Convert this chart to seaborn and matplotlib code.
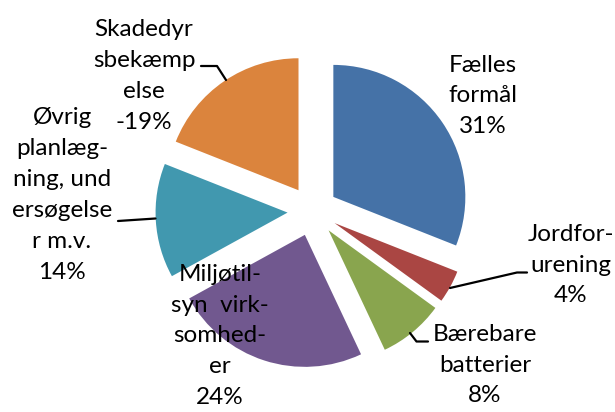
import matplotlib
matplotlib.use("Agg")
import matplotlib.pyplot as plt
import seaborn as sns

# ---- data ----
categories = ["Fælles formål", "Jordforurening", "Bærebare batterier",
              "Miljøtilsyn virksomheder", "Øvrig planlægning, undersøgelser m.v.",
              "Skadedyrsbekæmpelse"]
label_text = ["Fælles\nformål\n", "Jordfor-\nurening\n", "Bærebare\nbatterier\n",
              "Miljøtil-\nsyn  virk-\nsomhed-\ner\n", "Øvrig\nplanlæg-\nning, und\nersøgelse\nr m.v.\n",
              "Skadedyr\nsbekæmp\nelse\n-"]
values = [31, 4, 8, 24, 14, 19]
colors = ["#4572A7", "#AA4643", "#89A54E", "#71588F", "#4198AF", "#DB843D"]

# ---- layout (pixels in a 615x412 canvas) ----
W, H = 615, 412
R = 132.0
cx, cy = 312.6, 211.0
label_pos = [(483, 96), (571, 265), (485, 365), (220, 336), (62, 195), (144, 76)]
leaders = [
    None,
    [(450, 288), (517, 272.5), (527, 272.5)],
    [(410, 333), (416.5, 341.5), (428, 341.5)],
    None,
    [(118, 221), (155.5, 218.5)],
    [(201, 66), (217, 66), (226, 80)],
]

sns.set_theme(style="white")
plt.rcParams["font.family"] = ["Lato", "DejaVu Sans"]

fig = plt.figure(figsize=(W / 100, H / 100), dpi=100)
ax = fig.add_axes([0, 0, 1, 1])
ax.pie(values, colors=colors, startangle=90, counterclock=False,
       explode=[0.19] * len(values), radius=1.0,
       wedgeprops=dict(linewidth=0, antialiased=True))
ax.set_xlim(-cx / R, (W - cx) / R)
ax.set_ylim(-(H - cy) / R, cy / R)
ax.set_aspect("equal")
ax.axis("off")

for txt, v, (px, py) in zip(label_text, values, label_pos):
    fig.text(px / W, 1 - py / H, f"{txt}{v}%", ha="center", va="center",
             fontsize=17.5, linespacing=1.58, color="black")

for pts in leaders:
    if pts is None:
        continue
    xs = [p[0] / W for p in pts]
    ys = [1 - p[1] / H for p in pts]
    fig.add_artist(plt.Line2D(xs, ys, transform=fig.transFigure,
                              color="black", linewidth=1.6))

fig.savefig("out.png", dpi=100)
